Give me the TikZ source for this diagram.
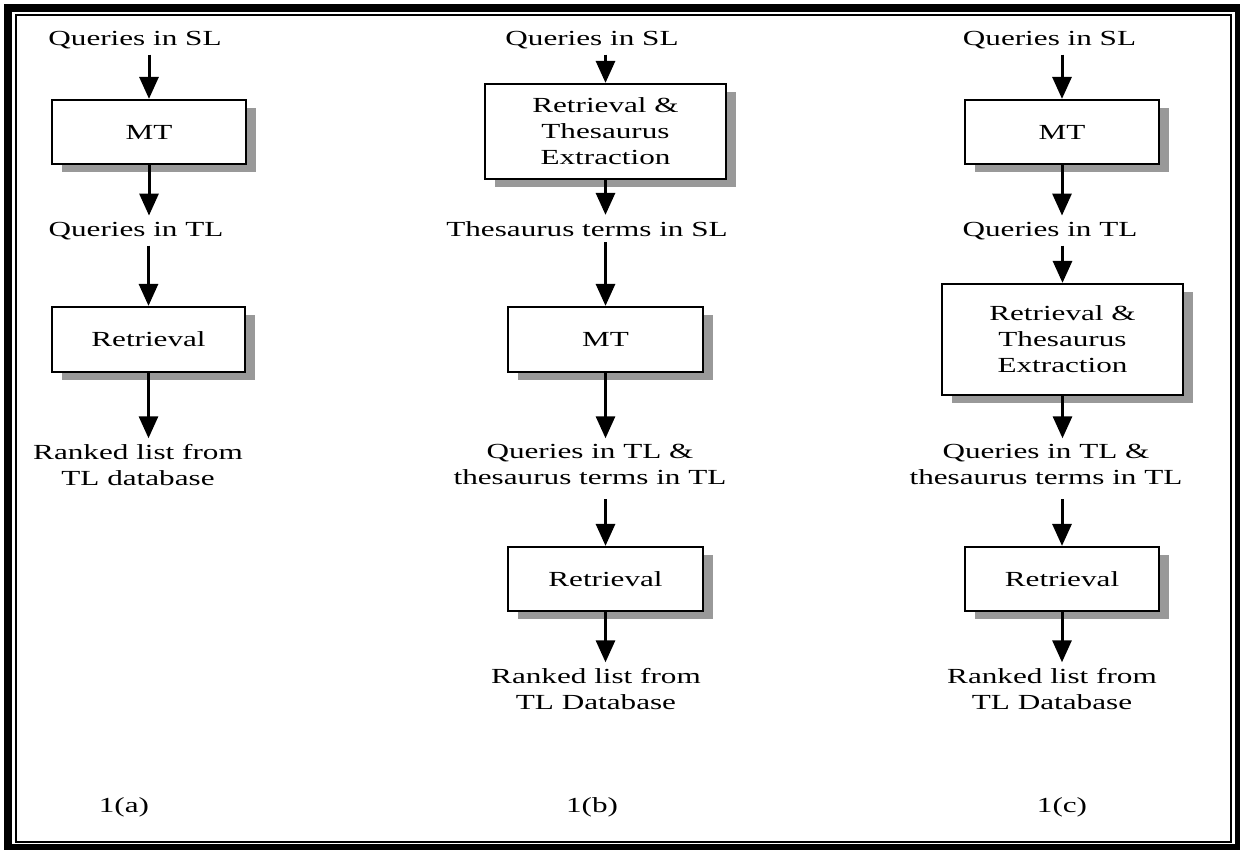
\documentclass[tikz,border=0pt]{standalone}
\usepackage{fontspec}
\newfontfamily\figserif[FakeStretch=1.45]{Liberation Serif}
\usetikzlibrary{arrows.meta,shadows}
\definecolor{ShadowGray}{HTML}{999999}

\begin{document}
\begin{tikzpicture}[
  x=1pt, y=-1pt,
  font=\figserif\fontsize{21.5}{26}\selectfont,
  blk/.style={draw, line width=2.2pt, fill=white, align=center, inner sep=0pt,
              general shadow={fill=ShadowGray, shadow xshift=10pt, shadow yshift=-8pt}},
  lbl/.style={align=center, inner xsep=0pt, inner ysep=6pt},
  flow/.style={-{Triangle[length=22pt,width=19pt]}, line width=3pt}
]
  \useasboundingbox (0,0) rectangle (1240,849);
  \draw[line width=8pt] (8,7.5) rectangle (1239,848);
  \draw[line width=2pt] (16,15) rectangle (1230.5,842);

  % 1(a)
  \node[lbl, anchor=base]  (a_in)  at (135,45)    {Queries in SL};
  \node[blk, minimum width=194pt, minimum height=64pt] (a_mt)  at (149,132)   {MT};
  \node[lbl, anchor=base]  (a_tl)  at (136,236)   {Queries in TL};
  \node[blk, minimum width=193pt, minimum height=65pt] (a_ret) at (148.5,339.5) {Retrieval};
  \node[lbl, anchor=north] (a_out) at (138,438.3) {Ranked list from\\TL database};
  \node[lbl, anchor=base]  (a_tag) at (124,812)   {1(a)};
  \draw[flow] (a_in.south -| a_mt.north) -- (a_mt.north);
  \draw[flow] (a_mt.south) -- (a_mt.south |- a_tl.north);
  \draw[flow] (a_tl.south -| a_ret.north) -- (a_ret.north);
  \draw[flow] (a_ret.south) -- (a_ret.south |- a_out.north);

  % 1(b)
  \node[lbl, anchor=base]  (b_in)  at (592,45)    {Queries in SL};
  \node[blk, minimum width=241pt, minimum height=95pt] (b_rte) at (605.5,131.5) {Retrieval \&\\Thesaurus\\Extraction};
  \node[lbl, anchor=base]  (b_ts)  at (587,236)   {Thesaurus terms in SL};
  \node[blk, minimum width=195pt, minimum height=65pt] (b_mt)  at (605.5,339.5) {MT};
  \node[lbl, anchor=north] (b_tl)  at (590,438.3) {Queries in TL \&\\thesaurus terms in TL};
  \node[blk, minimum width=195pt, minimum height=64pt] (b_ret) at (605.5,579) {Retrieval};
  \node[lbl, anchor=north] (b_out) at (596,662.3) {Ranked list from\\TL Database};
  \node[lbl, anchor=base]  (b_tag) at (592,812)   {1(b)};
  \draw[flow] (b_in.south -| b_rte.north) -- (b_rte.north);
  \draw[flow] (b_rte.south) -- (b_rte.south |- b_ts.north);
  \draw[flow] (b_ts.south -| b_mt.north) -- (b_mt.north);
  \draw[flow] (b_mt.south) -- (b_mt.south |- b_tl.north);
  \draw[flow, shorten <=8pt] (b_tl.south -| b_ret.north) -- (b_ret.north);
  \draw[flow] (b_ret.south) -- (b_ret.south |- b_out.north);

  % 1(c)
  \node[lbl, anchor=base]  (c_in)  at (1049.5,45) {Queries in SL};
  \node[blk, minimum width=194pt, minimum height=64pt] (c_mt)  at (1062,132)  {MT};
  \node[lbl, anchor=base]  (c_tl)  at (1050,236)  {Queries in TL};
  \node[blk, minimum width=241pt, minimum height=111pt] (c_rte) at (1062.5,339.5) {Retrieval \&\\Thesaurus\\Extraction};
  \node[lbl, anchor=north] (c_ttl) at (1046,438.3) {Queries in TL \&\\thesaurus terms in TL};
  \node[blk, minimum width=194pt, minimum height=64pt] (c_ret) at (1062,579)  {Retrieval};
  \node[lbl, anchor=north] (c_out) at (1052,662.3) {Ranked list from\\TL Database};
  \node[lbl, anchor=base]  (c_tag) at (1062,812)  {1(c)};
  \draw[flow] (c_in.south -| c_mt.north) -- (c_mt.north);
  \draw[flow] (c_mt.south) -- (c_mt.south |- c_tl.north);
  \draw[flow] (c_tl.south -| c_rte.north) -- (c_rte.north);
  \draw[flow] (c_rte.south) -- (c_rte.south |- c_ttl.north);
  \draw[flow, shorten <=8pt] (c_ttl.south -| c_ret.north) -- (c_ret.north);
  \draw[flow] (c_ret.south) -- (c_ret.south |- c_out.north);
\end{tikzpicture}
\end{document}
